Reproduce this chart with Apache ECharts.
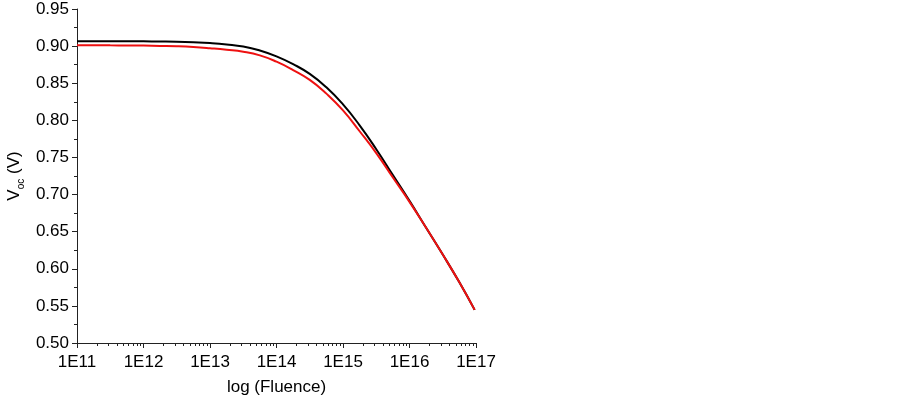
<!DOCTYPE html>
<html>
<head>
<meta charset="utf-8">
<script src="https://cdn.jsdelivr.net/npm/echarts@6/dist/echarts.min.js"></script>
<style>
html,body{margin:0;padding:0;background:#fff;}
#chart{width:903px;height:401px;}
</style>
</head>
<body>
<div id="chart"></div>
<script>
// log10 of fluence
var logFluence = [11, 11.25, 11.5, 11.75, 12, 12.25, 12.5, 12.75, 13, 13.25, 13.5, 13.75, 14, 14.25, 14.5, 14.75, 15, 15.25, 15.5, 15.75, 16, 16.25, 16.5, 16.75, 16.98];
var vocBlack = [0.9067, 0.9067, 0.9066, 0.9066, 0.9065, 0.9062, 0.9058, 0.9051, 0.9041, 0.9023, 0.8995, 0.8941, 0.8862, 0.8757, 0.8625, 0.8445, 0.8214, 0.7933, 0.7611, 0.7263, 0.6915, 0.6553, 0.6192, 0.5817, 0.5446];
var vocRed   = [0.9011, 0.9011, 0.9010, 0.9009, 0.9007, 0.9003, 0.8998, 0.8988, 0.8972, 0.8952, 0.8925, 0.8875, 0.8790, 0.8678, 0.8545, 0.8360, 0.8134, 0.7853, 0.7558, 0.7230, 0.6902, 0.6553, 0.6192, 0.5817, 0.5446];
var xTickExponents = [11, 12, 13, 14, 15, 16, 17];
var yTicks = [0.50, 0.55, 0.60, 0.65, 0.70, 0.75, 0.80, 0.85, 0.90, 0.95];

var minorX = [];
for (var n = 11; n < 17; n++) {
  for (var k = 2; k <= 9; k++) minorX.push(n + Math.log10(k));
}
function pairs(xs, ys) { return xs.map(function (x, i) { return [x, ys[i]]; }); }

var font = 'Liberation Sans, Arial, sans-serif';
var axisColor = '#222';
var chart = echarts.init(document.getElementById('chart'), null, {renderer: 'canvas'});
chart.setOption({
  animation: false,
  backgroundColor: '#fff',
  grid: {left: 77, right: 427, top: 9, bottom: 56, containLabel: false},
  xAxis: [{
    type: 'value', min: xTickExponents[0], max: xTickExponents[xTickExponents.length - 1], interval: 1,
    position: 'bottom',
    name: 'log (Fluence)', nameLocation: 'middle', nameGap: 36,
    nameTextStyle: {fontFamily: font, fontSize: 17, color: '#000'},
    axisLine: {show: true, lineStyle: {color: axisColor, width: 1}},
    axisTick: {show: true, length: 5, lineStyle: {color: axisColor}},
    axisLabel: {fontFamily: font, fontSize: 17, color: '#000', margin: 11,
      formatter: function (v) { return '1E' + v; }},
    splitLine: {show: false}
  }, {
    type: 'value', min: 11, max: 17, position: 'bottom',
    axisLine: {show: false},
    axisTick: {show: true, length: 3, customValues: minorX, lineStyle: {color: axisColor}},
    axisLabel: {show: false},
    splitLine: {show: false}
  }],
  yAxis: {
    type: 'value', min: yTicks[0], max: yTicks[yTicks.length - 1], interval: 0.05,
    name: '{v|V}{s|oc}{v| (V)}', nameLocation: 'middle', nameGap: 52, nameRotate: 90,
    nameTextStyle: {
      rich: {
        v: {fontFamily: font, fontSize: 17, color: '#000', verticalAlign: 'top', lineHeight: 19},
        s: {fontFamily: font, fontSize: 10, color: '#000', verticalAlign: 'top', padding: [10, 0, 0, 0], lineHeight: 12}
      }
    },
    axisLine: {show: true, lineStyle: {color: axisColor, width: 1}},
    axisTick: {show: true, length: 5, lineStyle: {color: axisColor}},
    minorTick: {show: true, splitNumber: 2, length: 3, lineStyle: {color: axisColor}},
    axisLabel: {fontFamily: font, fontSize: 17, color: '#000', margin: 8,
      formatter: function (v) { return v.toFixed(2); }},
    splitLine: {show: false}
  },
  series: [{
    name: 'black', type: 'line', xAxisIndex: 0, data: pairs(logFluence, vocBlack),
    showSymbol: false, smooth: 0.5, lineStyle: {color: '#000', width: 2}, itemStyle: {color: '#000'}
  }, {
    name: 'red', type: 'line', xAxisIndex: 0, data: pairs(logFluence, vocRed),
    showSymbol: false, smooth: 0.5, lineStyle: {color: '#ee1111', width: 2}, itemStyle: {color: '#ee1111'}
  }]
});
</script>
</body>
</html>
